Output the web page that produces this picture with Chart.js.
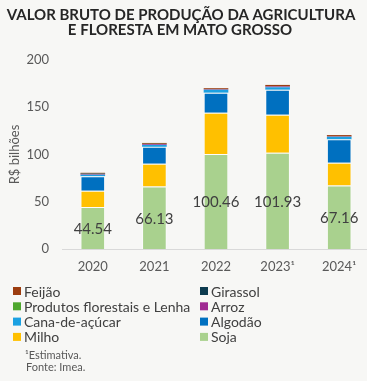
<!DOCTYPE html>
<html>
<head>
<meta charset="utf-8">
<script src="https://cdn.jsdelivr.net/npm/chart.js@4"></script>
<style>
  html, body { margin: 0; padding: 0; background: #f7f7f5; overflow: hidden; }
  #wrap { width: 367px; height: 381px; overflow: hidden; }
</style>
</head>
<body>
<div id="wrap"><canvas id="vbp" width="370" height="381" style="width:370px;height:381px"></canvas></div>
<script>
var anos = ['2020', '2021', '2022', '2023¹', '2024¹'];
var soja = [44.54, 66.13, 100.46, 101.93, 67.16];
var milho = [17.0, 24.0, 43.8, 40.2, 24.1];
var algodao = [15.5, 18.0, 21.2, 26.5, 24.8];
var cana = [1.5, 2.0, 3.0, 2.5, 2.6];
var arroz = [0.6, 0.8, 0.5, 0.9, 0.4];
var florestais = [0.3, 0.3, 0.2, 0.3, 0.2];
var girassol = [0.4, 0.1, 0.1, 0.1, 0.1];
var feijao = [0.8, 0.9, 0.9, 1.2, 1.2];
var yTicks = [0, 50, 100, 150, 200];

var fonte = 'Lato, "Noto Sans", sans-serif';
var corTexto = '#404040';

// titulo e rodape
let textos = {
    id: 'textos',
    beforeDraw: function (chart) {
        let ctx = chart.ctx;
        ctx.save();
        ctx.fillStyle = '#f7f7f5';
        ctx.fillRect(0, 0, chart.width, chart.height);
        ctx.fillStyle = '#262626';
        ctx.font = 'bold 15px ' + fonte;
        ctx.textAlign = 'center';
        ctx.textBaseline = 'middle';
        ctx.fillText('VALOR BRUTO DE PRODUÇÃO DA AGRICULTURA', 181, 15);
        ctx.fillText('E FLORESTA EM MATO GROSSO', 180, 30);
        ctx.restore();
    },
    afterDraw: function (chart) {
        let ctx = chart.ctx;
        ctx.save();
        // rotulos da soja
        let meta = chart.getDatasetMeta(0);
        ctx.fillStyle = corTexto;
        ctx.font = '15px ' + fonte;
        ctx.textAlign = 'center';
        ctx.textBaseline = 'middle';
        meta.data.forEach(function (bar, i) {
            ctx.fillText(soja[i].toFixed(2), bar.x, (bar.y + bar.base) / 2 + 1);
        });

        // legenda em duas colunas
        let ds = chart.data.datasets.slice().reverse();
        ctx.textAlign = 'left';
        ctx.font = '14px ' + fonte;
        ds.forEach(function (d, i) {
            let col = i % 2, row = Math.floor(i / 2);
            let x = col === 0 ? 13 : 200;
            let y = 291 + row * 15.3;
            ctx.fillStyle = d.backgroundColor;
            ctx.fillRect(x, y - 4, 8, 8);
            ctx.fillStyle = corTexto;
            ctx.fillText(d.label, x + 11, y + 1);
        });

        ctx.fillStyle = '#595959';
        ctx.font = '11px ' + fonte;
        ctx.fillText('¹Estimativa.', 25, 355);
        ctx.fillText('Fonte: Imea.', 26, 367);
        ctx.restore();
    }
};

let borda = 'rgba(255,255,255,0.6)';
function serie(label, data, cor, bw) {
    return { label: label, data: data, backgroundColor: cor, borderColor: borda, borderWidth: bw };
}

let vbp = new Chart(document.getElementById('vbp').getContext('2d'), {
    type: 'bar',
    data: {
        labels: anos,
        datasets: [
            serie('Soja', soja, '#a9d18e', 1),
            serie('Milho', milho, '#ffc000', 1),
            serie('Algodão', algodao, '#0070c0', 1),
            serie('Cana-de-açúcar', cana, '#1ba1e2', 0),
            serie('Arroz', arroz, '#a02b93', 0),
            serie('Produtos florestais e Lenha', florestais, '#4ea72e', 0),
            serie('Girassol', girassol, '#0d3b4f', 0),
            serie('Feijão', feijao, '#9c3d0f', 0)
        ]
    },
    options: {
        responsive: false,
        animation: false,
        layout: { padding: { top: 60, left: 0, right: 0, bottom: 102 } },
        datasets: { bar: { barPercentage: 0.4, categoryPercentage: 1 } },
        plugins: {
            legend: { display: false },
            title: { display: false },
            tooltip: { enabled: false }
        },
        scales: {
            x: {
                stacked: true,
                grid: { display: false, drawTicks: false },
                border: { display: true, color: '#d9d9d9', width: 1 },
                ticks: { color: '#595959', font: { family: fonte, size: 13 }, padding: 10 },
                afterFit: function (s) { s.height = 30; }
            },
            y: {
                stacked: true,
                min: 0,
                max: 200,
                afterBuildTicks: function (s) { s.ticks = yTicks.map(function (v) { return { value: v }; }); },
                grid: { display: false, drawTicks: false },
                border: { display: false },
                ticks: { color: '#595959', font: { family: fonte, size: 13 }, padding: 13 },
                title: { display: true, text: 'R$ bilhões', color: '#595959', font: { family: fonte, size: 13 }, padding: { top: 7, bottom: 0 } },
                afterFit: function (s) { s.width = 62; }
            }
        }
    },
    plugins: [textos]
});
</script>
</body>
</html>
